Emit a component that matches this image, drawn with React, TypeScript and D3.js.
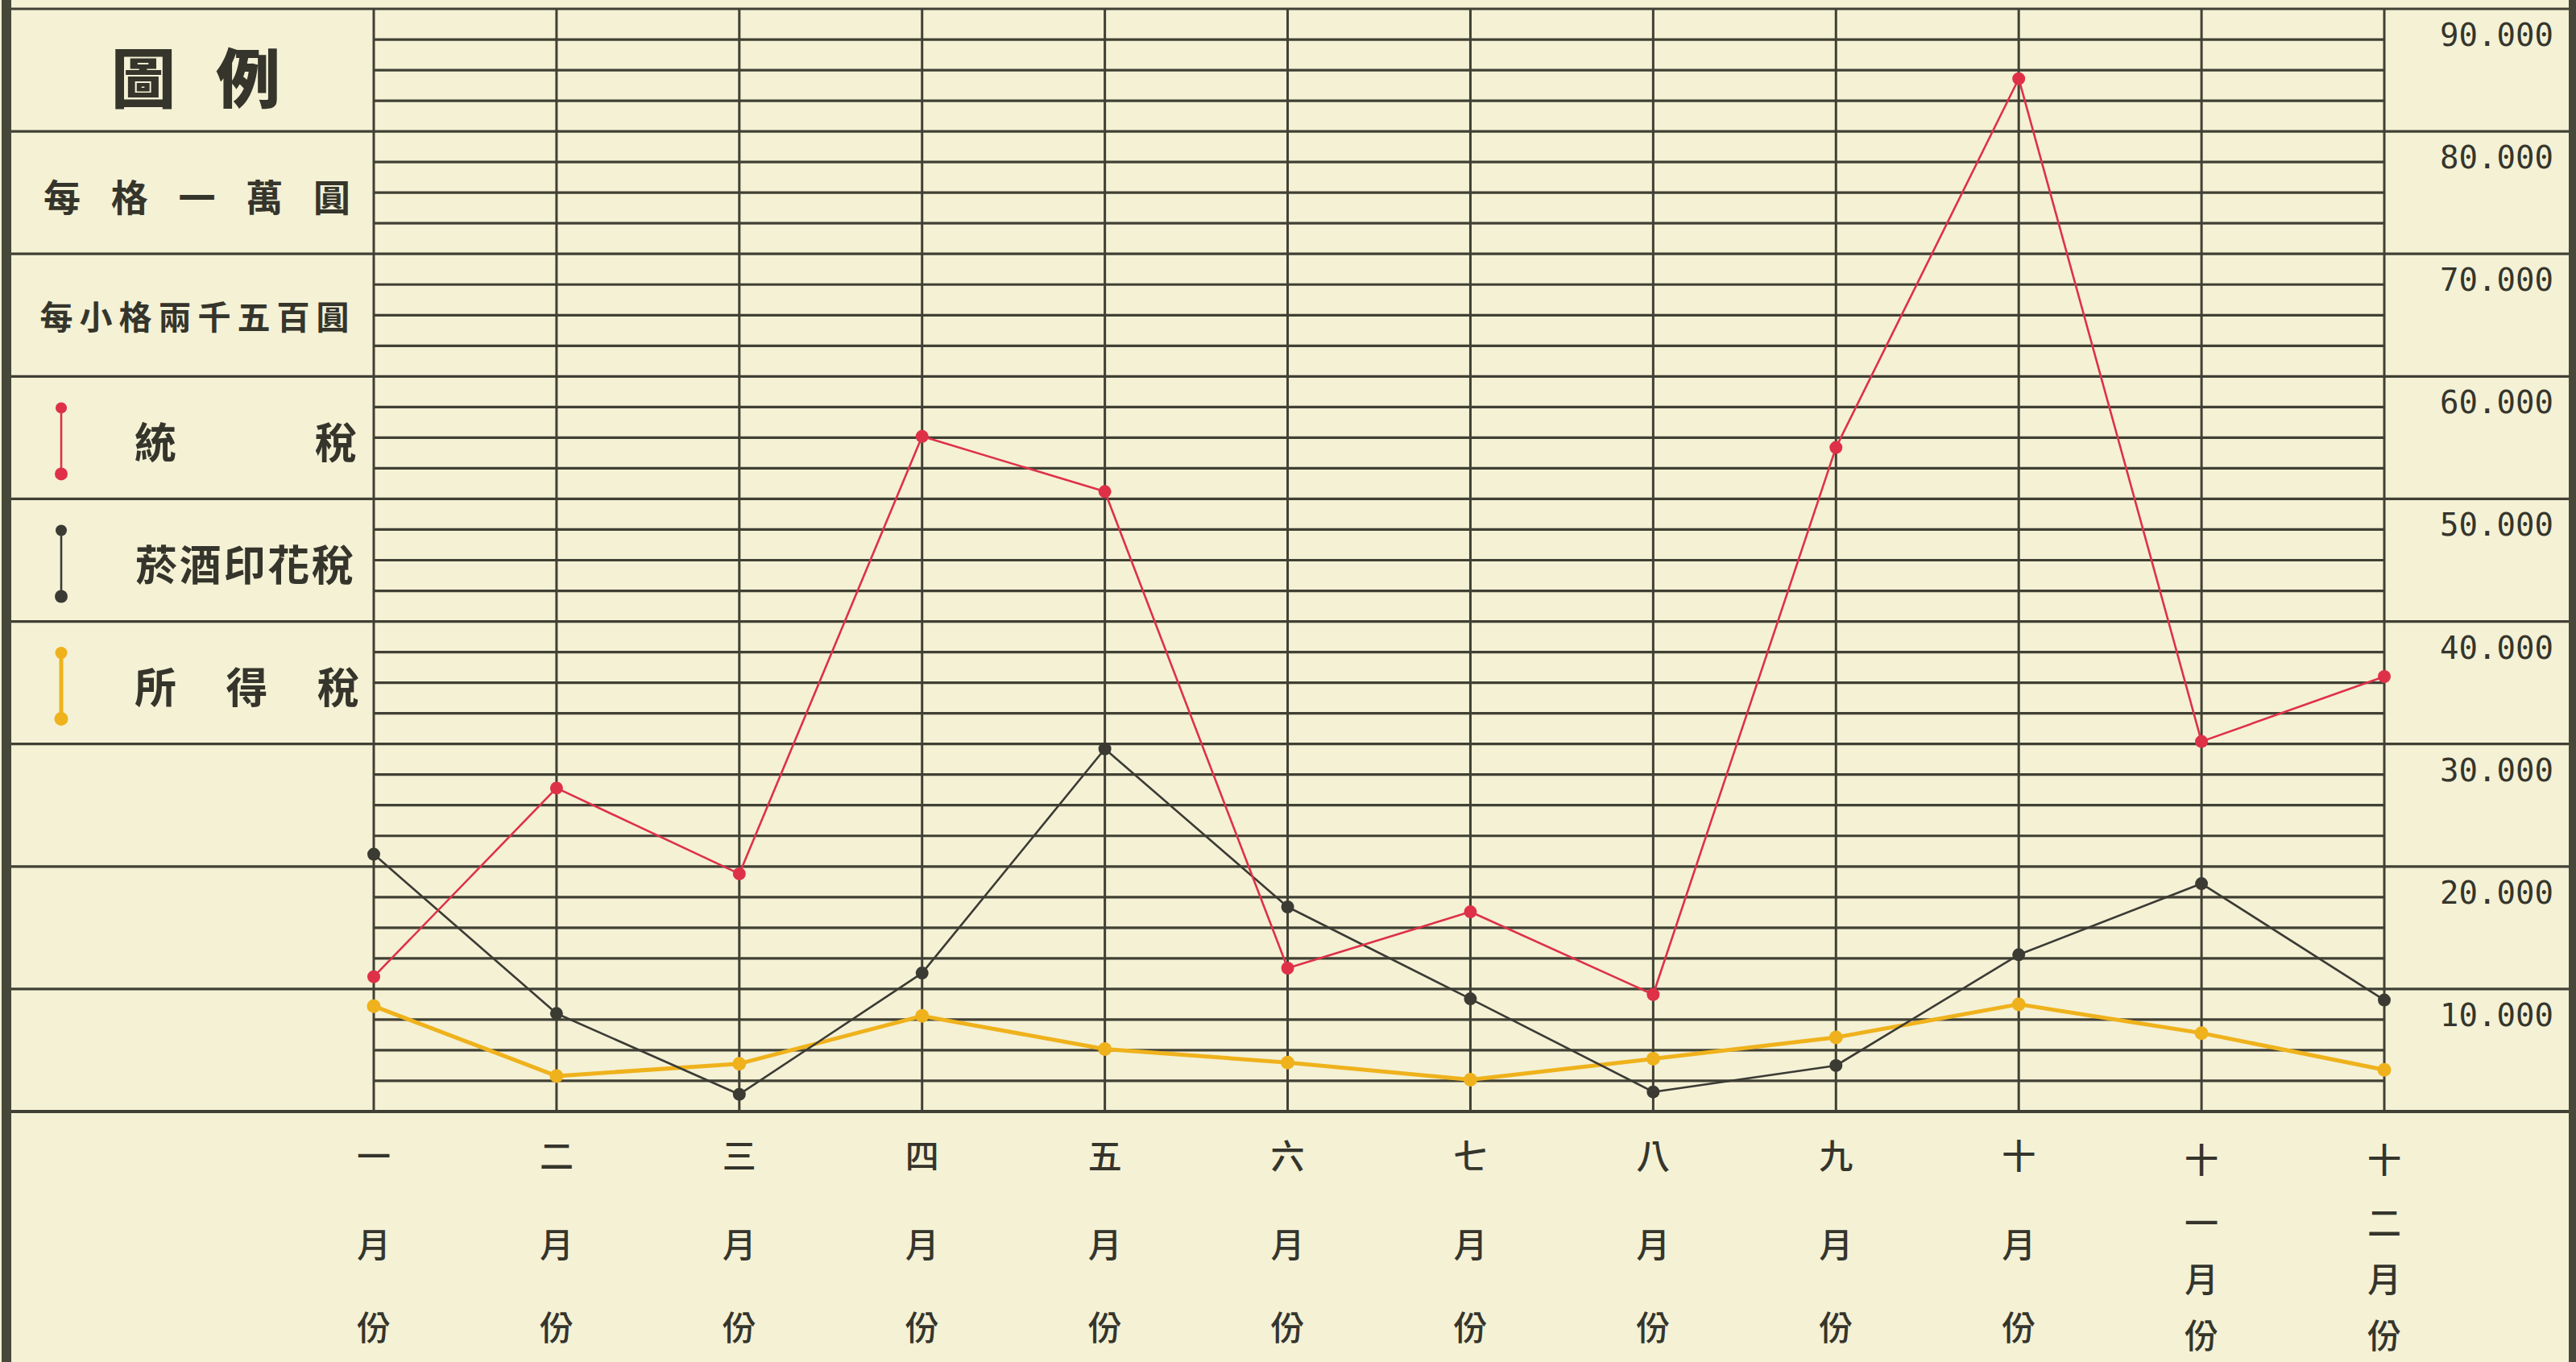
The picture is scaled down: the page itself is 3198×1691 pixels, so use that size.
import React, { useRef, useEffect } from 'react';
import * as d3 from 'd3';

// months along the bottom, read top-to-bottom as vertical text
const months = ['一月份', '二月份', '三月份', '四月份', '五月份', '六月份', '七月份', '八月份', '九月份', '十月份', '十一月份', '十二月份'];

// values in yuan
const tongShui = [11000, 26400, 19400, 55100, 50600, 11700, 16300, 9550, 54200, 84300, 30200, 35500];
const yanJiuYinHua = [21000, 8000, 1400, 11300, 29600, 16700, 9200, 1600, 3750, 12800, 18600, 9100];
const suoDe = [8600, 2900, 3900, 7800, 5100, 4000, 2600, 4300, 6050, 8750, 6400, 3400];

const yTickValues = [10000, 20000, 30000, 40000, 50000, 60000, 70000, 80000, 90000];
const seriesNames = ['統稅', '菸酒印花稅', '所得稅'];
const legendTitle = '圖例';
const legendUnit = '每格一萬圓';
const legendSubUnit = '每小格兩千五百圓';

const W = 3198;
const H = 1691;
const PAPER = '#f4f1d5';
const INK = '#404034';
const TEXT = '#35352c';
const CJK = '"Noto Sans CJK TC", "Noto Sans CJK SC", sans-serif';

const App: React.FC = () => {
  const svgRef = useRef<SVGSVGElement>(null);

  useEffect(() => {
    if (!svgRef.current) return;
    const svg = d3.select(svgRef.current);
    svg.selectAll('*').remove();

    const plotLeft = 464;
    const plotRight = 2960;
    const borderLeft = 14;
    const borderRight = 3189;

    const x = d3.scalePoint<string>().domain(months).range([plotLeft, plotRight]);
    const y = d3.scaleLinear().domain([0, 90000]).range([1380, 11]);

    svg.append('rect').attr('width', W).attr('height', H).attr('fill', PAPER);

    // minor grid: every 2,500
    const minor = d3.range(0, 90001, 2500).filter(v => v % 10000 !== 0);
    svg.append('g').selectAll('line')
      .data(minor)
      .enter().append('line')
      .attr('x1', plotLeft).attr('x2', plotRight)
      .attr('y1', d => y(d)).attr('y2', d => y(d))
      .attr('stroke', INK).attr('stroke-width', 3.2);

    // major grid: every 10,000, full width incl. legend and label columns
    const major = d3.range(0, 90001, 10000);
    svg.append('g').selectAll('line')
      .data(major)
      .enter().append('line')
      .attr('x1', borderLeft).attr('x2', borderRight)
      .attr('y1', d => y(d)).attr('y2', d => y(d))
      .attr('stroke', INK).attr('stroke-width', d => (d === 0 ? 4 : 3.2));

    // month verticals
    svg.append('g').selectAll('line')
      .data(months)
      .enter().append('line')
      .attr('x1', d => x(d) as number).attr('x2', d => x(d) as number)
      .attr('y1', y(90000)).attr('y2', y(0))
      .attr('stroke', INK).attr('stroke-width', 3);

    // outer borders
    svg.append('rect').attr('x', 2).attr('y', 0).attr('width', 12).attr('height', H).attr('fill', '#48483a');
    svg.append('rect').attr('x', borderRight).attr('y', 0).attr('width', 9).attr('height', H).attr('fill', '#48483a');

    // y labels in right column
    svg.append('g').selectAll('text')
      .data(yTickValues)
      .enter().append('text')
      .attr('x', 3170)
      .attr('y', d => y(d) + 46)
      .attr('text-anchor', 'end')
      .style('font-family', '"DejaVu Sans Mono", monospace')
      .style('font-size', '39px')
      .style('fill', TEXT)
      .text(d => d3.format(',')(d).replace(',', '.'));

    // legend
    const rowMid = (i: number) => (y(90000 - 10000 * i) + y(80000 - 10000 * i)) / 2;
    const spread = (g: d3.Selection<SVGGElement, unknown, null, undefined>, str: string, x0: number, x1: number, cy: number, size: number, weight = 700) => {
      const chars = Array.from(str);
      const step = chars.length > 1 ? (x1 - x0) / (chars.length - 1) : 0;
      g.selectAll(null)
        .data(chars)
        .enter().append('text')
        .attr('x', (_, i) => x0 + i * step)
        .attr('y', cy)
        .attr('text-anchor', 'middle')
        .attr('dominant-baseline', 'central')
        .style('font-family', CJK)
        .style('font-weight', weight)
        .style('font-size', `${size}px`)
        .style('fill', TEXT)
        .text(d => d);
    };

    const legend = svg.append('g');
    spread(legend, legendTitle, 178, 308, rowMid(0) + 5, 80, 900);
    spread(legend, legendUnit, 77, 412, rowMid(1) + 3, 46);
    spread(legend, legendSubUnit, 70, 413, rowMid(2), 41);

    const series = [
      { name: seriesNames[0], values: tongShui, color: '#de3148', width: 2.6, r: 8, tx: [193, 417] },
      { name: seriesNames[1], values: yanJiuYinHua, color: '#3b3b34', width: 2.6, r: 8, tx: [194, 413] },
      { name: seriesNames[2], values: suoDe, color: '#efb21c', width: 5, r: 8.5, tx: [193, 420] },
    ];

    series.forEach((s, i) => {
      const cy = rowMid(3 + i) + 3;
      spread(legend, s.name, s.tx[0], s.tx[1], cy, 52);
      legend.append('line')
        .attr('x1', 76).attr('x2', 76)
        .attr('y1', cy - 40).attr('y2', cy + 42)
        .attr('stroke', s.color).attr('stroke-width', s.width);
      legend.append('circle').attr('cx', 76).attr('cy', cy - 40).attr('r', s.r - 1).attr('fill', s.color);
      legend.append('circle').attr('cx', 76).attr('cy', cy + 42).attr('r', s.r).attr('fill', s.color);
    });

    // month labels, stacked vertically
    const monthG = svg.append('g');
    months.forEach(m => {
      const chars = Array.from(m);
      const ys = chars.length === 3 ? [1432, 1542, 1645] : [1437, 1515, 1585, 1655];
      chars.forEach((c, j) => {
        monthG.append('text')
          .attr('x', x(m) as number)
          .attr('y', ys[j])
          .attr('text-anchor', 'middle')
          .attr('dominant-baseline', 'central')
          .style('font-family', CJK)
          .style('font-weight', 500)
          .style('font-size', '42px')
          .style('fill', TEXT)
          .text(c);
      });
    });

    // series lines: yellow under, red on top
    const line = d3.line<number>()
      .x((_, i) => x(months[i]) as number)
      .y(d => y(d));

    [series[2], series[1], series[0]].forEach(s => {
      const g = svg.append('g');
      g.append('path')
        .attr('d', line(s.values))
        .attr('fill', 'none')
        .attr('stroke', s.color)
        .attr('stroke-width', s.width)
        .attr('stroke-linejoin', 'round');
      g.selectAll('circle')
        .data(s.values)
        .enter().append('circle')
        .attr('cx', (_, i) => x(months[i]) as number)
        .attr('cy', d => y(d))
        .attr('r', s.r)
        .attr('fill', s.color);
    });
  }, []);

  return (
    <svg
      ref={svgRef}
      width={W}
      height={H}
      style={{ position: 'absolute', left: 0, top: 0, display: 'block' }}
    />
  );
};

export default App;
